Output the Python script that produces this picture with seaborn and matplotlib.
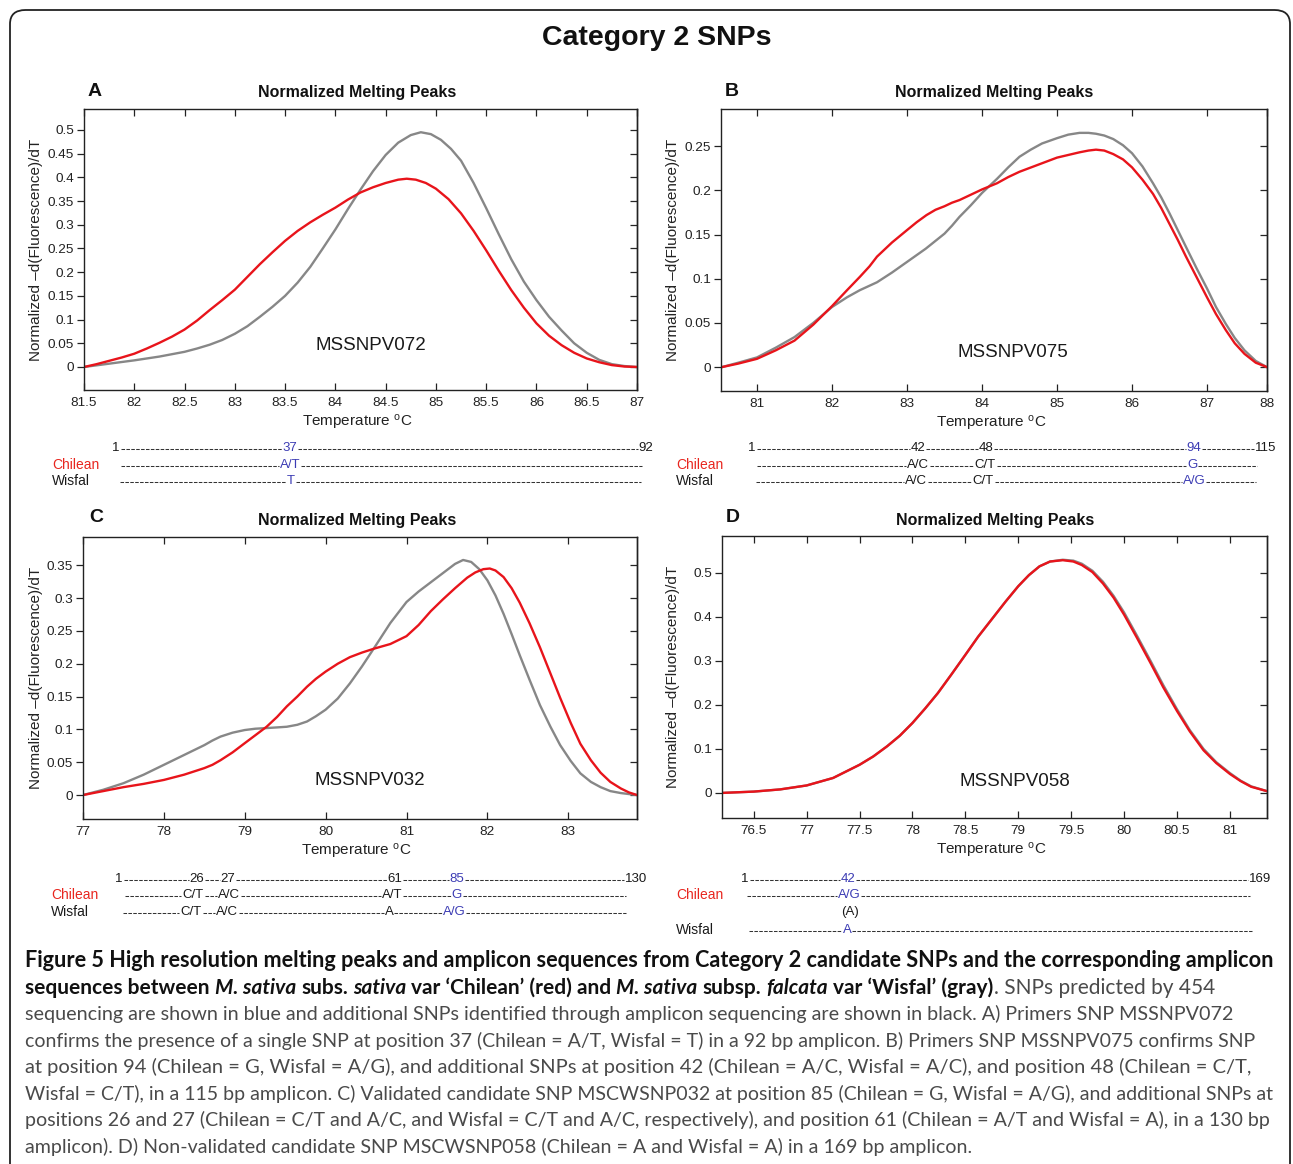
import numpy as np
import pandas as pd
import seaborn as sns
import matplotlib.pyplot as plt
from matplotlib import font_manager
from matplotlib.lines import Line2D
from matplotlib.patches import FancyBboxPatch

sns.set_theme(style="ticks")
names = {f.name for f in font_manager.fontManager.ttflist}
base_font = "Liberation Sans"
narrow_font = "Liberation Sans Narrow" if "Liberation Sans Narrow" in names else base_font
cap_font = "Lato" if "Lato" in names else "DejaVu Sans"
plt.rcParams["font.family"] = [base_font, "DejaVu Sans"]
plt.rcParams["mathtext.default"] = "regular"

W, H = 1293, 1164
RED = "#e8141b"
GREY = "#878787"
BLUE = "#3c3cb4"
TXT = "#222222"

# ---- melting peak data ----
# A  MSSNPV072
a_red_t = [81.5, 81.625, 81.75, 81.875, 82.0, 82.125, 82.25, 82.375, 82.5, 82.625, 82.75,
           82.875, 83.0, 83.125, 83.25, 83.375, 83.5, 83.625, 83.75, 83.875, 84.0, 84.125,
           84.25, 84.375, 84.5, 84.625, 84.71, 84.8, 84.9, 85.0, 85.125, 85.25, 85.375,
           85.5, 85.625, 85.75, 85.875, 86.0, 86.125, 86.25, 86.375, 86.5, 86.625, 86.75,
           86.875, 87.0]
a_red_v = [0, 0.006, 0.013, 0.02, 0.028, 0.039, 0.051, 0.064, 0.079, 0.098, 0.12,
           0.141, 0.163, 0.19, 0.217, 0.242, 0.266, 0.287, 0.305, 0.321, 0.336, 0.353,
           0.368, 0.379, 0.388, 0.395, 0.397, 0.395, 0.388, 0.376, 0.354, 0.324, 0.287,
           0.246, 0.203, 0.162, 0.125, 0.092, 0.066, 0.046, 0.03, 0.018, 0.01, 0.004,
           0.001, 0.0]
a_grey_t = [81.5, 81.75, 82.0, 82.25, 82.5, 82.625, 82.75, 82.875, 83.0, 83.125, 83.25,
            83.375, 83.5, 83.625, 83.75, 83.875, 84.0, 84.125, 84.25, 84.375, 84.5, 84.625,
            84.75, 84.85, 84.95, 85.05, 85.15, 85.25, 85.375, 85.5, 85.625, 85.75, 85.875,
            86.0, 86.125, 86.25, 86.375, 86.5, 86.625, 86.75, 86.875, 87.0]
a_grey_v = [0, 0.007, 0.014, 0.022, 0.032, 0.039, 0.047, 0.057, 0.07, 0.086, 0.106,
            0.127, 0.15, 0.178, 0.211, 0.25, 0.29, 0.333, 0.374, 0.413, 0.447, 0.473,
            0.489, 0.495, 0.491, 0.479, 0.46, 0.435, 0.388, 0.335, 0.28, 0.227, 0.18,
            0.141, 0.106, 0.077, 0.05, 0.03, 0.015, 0.006, 0.002, 0.0]

# B  MSSNPV075
b_red_t = [80.53, 80.75, 81.0, 81.25, 81.5, 81.75, 82.0, 82.2, 82.37, 82.5, 82.6, 82.8,
           83.0, 83.13, 83.26, 83.38, 83.5, 83.6, 83.7, 83.85, 84.0, 84.2, 84.35, 84.5,
           84.75, 85.0, 85.15, 85.3, 85.42, 85.52, 85.63, 85.75, 85.88, 86.0, 86.14,
           86.28, 86.39, 86.5, 86.61, 86.72, 86.86, 87.0, 87.12, 87.25, 87.37, 87.5,
           87.65, 87.8]
b_red_v = [0, 0.004, 0.0094, 0.019, 0.03, 0.048, 0.069, 0.087, 0.102, 0.114, 0.125, 0.141,
           0.155, 0.164, 0.172, 0.178, 0.182, 0.186, 0.189, 0.195, 0.201, 0.208, 0.215,
           0.221, 0.229, 0.237, 0.24, 0.243, 0.245, 0.246, 0.245, 0.241, 0.235, 0.226,
           0.212, 0.196, 0.18, 0.162, 0.144, 0.125, 0.102, 0.079, 0.06, 0.042, 0.027,
           0.015, 0.005, 0]
b_grey_t = [80.53, 80.75, 81.0, 81.25, 81.5, 81.75, 82.0, 82.2, 82.37, 82.6, 82.8, 83.0,
            83.25, 83.5, 83.6, 83.7, 83.85, 84.0, 84.1, 84.2, 84.35, 84.5, 84.65, 84.8,
            85.0, 85.15, 85.3, 85.42, 85.52, 85.63, 85.75, 85.88, 86.0, 86.14, 86.28,
            86.39, 86.5, 86.61, 86.72, 86.86, 87.0, 87.12, 87.25, 87.37, 87.5, 87.65, 87.8]
b_grey_v = [0, 0.005, 0.011, 0.022, 0.034, 0.05, 0.068, 0.079, 0.087, 0.096, 0.107, 0.119,
            0.134, 0.151, 0.16, 0.17, 0.183, 0.197, 0.205, 0.213, 0.226, 0.238, 0.246,
            0.253, 0.259, 0.263, 0.265, 0.265, 0.264, 0.262, 0.258, 0.251, 0.242, 0.227,
            0.208, 0.192, 0.174, 0.155, 0.136, 0.112, 0.089, 0.068, 0.049, 0.033, 0.019,
            0.007, 0]

# C  MSSNPV032
c_red_t = [77.0, 77.25, 77.5, 77.75, 78.0, 78.25, 78.5, 78.6, 78.7, 78.85, 79.0, 79.13,
           79.27, 79.4, 79.52, 79.65, 79.77, 79.88, 80.0, 80.15, 80.3, 80.45, 80.6, 80.8,
           81.0, 81.15, 81.3, 81.45, 81.6, 81.75, 81.85, 81.95, 82.03, 82.1, 82.2, 82.3,
           82.4, 82.52, 82.65, 82.78, 82.9, 83.03, 83.15, 83.28, 83.4, 83.52, 83.65,
           83.75, 83.85]
c_red_v = [0, 0.006, 0.012, 0.017, 0.023, 0.031, 0.041, 0.046, 0.053, 0.065, 0.079, 0.091,
           0.104, 0.119, 0.135, 0.15, 0.165, 0.177, 0.188, 0.2, 0.21, 0.217, 0.223, 0.23,
           0.242, 0.259, 0.28, 0.298, 0.315, 0.331, 0.339, 0.344, 0.345, 0.342, 0.332,
           0.315, 0.293, 0.262, 0.225, 0.185, 0.148, 0.11, 0.078, 0.053, 0.034, 0.02,
           0.01, 0.004, 0]
c_grey_t = [77.0, 77.25, 77.5, 77.75, 78.0, 78.25, 78.5, 78.6, 78.7, 78.85, 79.0, 79.13,
            79.27, 79.4, 79.52, 79.65, 79.77, 79.88, 80.0, 80.15, 80.3, 80.45, 80.6, 80.8,
            81.0, 81.15, 81.3, 81.45, 81.6, 81.7, 81.8, 81.9, 82.0, 82.1, 82.2, 82.3, 82.4,
            82.52, 82.65, 82.78, 82.9, 83.03, 83.15, 83.28, 83.4, 83.52, 83.65, 83.85]
c_grey_v = [0, 0.008, 0.018, 0.031, 0.046, 0.061, 0.076, 0.083, 0.089, 0.095, 0.099, 0.101,
            0.102, 0.103, 0.104, 0.107, 0.112, 0.12, 0.13, 0.147, 0.17, 0.196, 0.224, 0.262,
            0.294, 0.31, 0.324, 0.338, 0.352, 0.358, 0.355, 0.344, 0.327, 0.304, 0.276,
            0.245, 0.213, 0.176, 0.137, 0.104, 0.076, 0.052, 0.033, 0.02, 0.012, 0.006,
            0.003, 0]

# D  MSSNPV058
d_grey_t = [76.2, 76.5, 76.75, 77.0, 77.25, 77.5, 77.63, 77.76, 77.88, 78.0, 78.12, 78.24,
            78.37, 78.5, 78.62, 78.75, 78.88, 79.0, 79.1, 79.2, 79.3, 79.42, 79.52, 79.6,
            79.7, 79.8, 79.9, 80.0, 80.12, 80.25, 80.37, 80.5, 80.62, 80.75, 80.87, 81.0,
            81.1, 81.2, 81.35]
d_grey_v = [0, 0.003, 0.008, 0.017, 0.034, 0.064, 0.083, 0.106, 0.13, 0.159, 0.192, 0.227,
            0.27, 0.314, 0.355, 0.395, 0.435, 0.47, 0.495, 0.515, 0.526, 0.53, 0.528, 0.521,
            0.505, 0.48, 0.448, 0.41, 0.358, 0.3, 0.245, 0.19, 0.143, 0.1, 0.07, 0.045,
            0.028, 0.015, 0.004]
d_red_t = [76.2, 76.5, 76.75, 77.0, 77.25, 77.5, 77.63, 77.76, 77.88, 78.0, 78.12, 78.24,
           78.37, 78.5, 78.62, 78.75, 78.88, 79.0, 79.1, 79.2, 79.3, 79.42, 79.52, 79.6,
           79.7, 79.8, 79.9, 80.0, 80.12, 80.25, 80.37, 80.5, 80.62, 80.75, 80.87, 81.0,
           81.1, 81.2, 81.35]
d_red_v = [0, 0.003, 0.008, 0.017, 0.034, 0.064, 0.083, 0.106, 0.13, 0.159, 0.192, 0.227,
           0.27, 0.314, 0.355, 0.395, 0.435, 0.47, 0.495, 0.515, 0.526, 0.529, 0.526, 0.518,
           0.502, 0.476, 0.444, 0.405, 0.353, 0.295, 0.24, 0.186, 0.14, 0.097, 0.068, 0.043,
           0.027, 0.014, 0.004]

# tick values
a_xticks = [81.5, 82, 82.5, 83, 83.5, 84, 84.5, 85, 85.5, 86, 86.5, 87]
a_yticks = [0, 0.05, 0.1, 0.15, 0.2, 0.25, 0.3, 0.35, 0.4, 0.45, 0.5]
b_xticks = [81, 82, 83, 84, 85, 86, 87, 87.8]
b_xlabels = ["81", "82", "83", "84", "85", "86", "87", "88"]
b_yticks = [0, 0.05, 0.1, 0.15, 0.2, 0.25]
c_xticks = [77, 78, 79, 80, 81, 82, 83]
c_yticks = [0, 0.05, 0.1, 0.15, 0.2, 0.25, 0.3, 0.35]
d_xticks = [76.5, 77, 77.5, 78, 78.5, 79, 79.5, 80, 80.5, 81]
d_yticks = [0, 0.1, 0.2, 0.3, 0.4, 0.5]

primers = ["MSSNPV072", "MSSNPV075", "MSSNPV032", "MSSNPV058"]

# amplicon sequences: (text, colour key) items per row
seq_a = [[("1", "k"), ("37", "b"), ("92", "k")],
         [("A/T", "b")],
         [("T", "b")]]
seq_b = [[("1", "k"), ("42", "k"), ("48", "k"), ("94", "b"), ("115", "k")],
         [("A/C", "k"), ("C/T", "k"), ("G", "b")],
         [("A/C", "k"), ("C/T", "k"), ("A/G", "b")]]
seq_c = [[("1", "k"), ("26", "k"), ("27", "k"), ("61", "k"), ("85", "b"), ("130", "k")],
         [("C/T", "k"), ("A/C", "k"), ("A/T", "k"), ("G", "b")],
         [("C/T", "k"), ("A/C", "k"), ("A", "k"), ("A/G", "b")]]
seq_d = [[("1", "k"), ("42", "b"), ("169", "k")],
         [("A/G", "b")],
         [("A", "b")]]

caption = [
    [("Figure 5 High resolution melting peaks and amplicon sequences from Category 2 candidate SNPs and the corresponding amplicon", "b")],
    [("sequences between ", "b"), ("M. sativa", "bi"), (" subs. ", "b"), ("sativa", "bi"),
     (" var \u2018Chilean\u2019 (red) and ", "b"), ("M. sativa", "bi"), (" subsp. ", "b"),
     ("falcata", "bi"), (" var \u2018Wisfal\u2019 (gray)", "b"), (". SNPs predicted by 454", "r")],
    [("sequencing are shown in blue and additional SNPs identified through amplicon sequencing are shown in black. A) Primers SNP MSSNPV072", "r")],
    [("confirms the presence of a single SNP at position 37 (Chilean = A/T, Wisfal = T) in a 92 bp amplicon. B) Primers SNP MSSNPV075 confirms SNP", "r")],
    [("at position 94 (Chilean = G, Wisfal = A/G), and additional SNPs at position 42 (Chilean = A/C, Wisfal = A/C), and position 48 (Chilean = C/T,", "r")],
    [("Wisfal = C/T), in a 115 bp amplicon. C) Validated candidate SNP MSCWSNP032 at position 85 (Chilean = G, Wisfal = A/G), and additional SNPs at", "r")],
    [("positions 26 and 27 (Chilean = C/T and A/C, and Wisfal = C/T and A/C, respectively), and position 61 (Chilean = A/T and Wisfal = A), in a 130 bp", "r")],
    [("amplicon). D) Non-validated candidate SNP MSCWSNP058 (Chilean = A and Wisfal = A) in a 169 bp amplicon.", "r")],
]

# ---- layout (pixels) ----
panels = [
    dict(letter="A", rect=(84, 109, 637, 390), xlim=(81.5, 87), ylim=(-0.0485, 0.544),
         xt=a_xticks, xl=None, yt=a_yticks, red=(a_red_t, a_red_v), grey=(a_grey_t, a_grey_v),
         tag=(0.519, 0.157), title=(357, 93), let=(95, 91), ylab=-0.074),
    dict(letter="B", rect=(721, 109, 1267, 391), xlim=(80.52, 87.8), ylim=(-0.027, 0.292),
         xt=b_xticks, xl=b_xlabels, yt=b_yticks, red=(b_red_t, b_red_v), grey=(b_grey_t, b_grey_v),
         tag=(0.535, 0.138), title=(994, 93), let=(732, 91), ylab=-0.075),
    dict(letter="C", rect=(83, 537, 637, 819), xlim=(77, 83.85), ylim=(-0.0365, 0.393),
         xt=c_xticks, xl=None, yt=c_yticks, red=(c_red_t, c_red_v), grey=(c_grey_t, c_grey_v),
         tag=(0.518, 0.135), title=(357, 520), let=(96, 517), ylab=-0.072),
    dict(letter="D", rect=(722, 536, 1267, 818), xlim=(76.2, 81.35), ylim=(-0.057, 0.584),
         xt=d_xticks, xl=None, yt=d_yticks, red=(d_red_t, d_red_v), grey=(d_grey_t, d_grey_v),
         tag=(0.538, 0.131), title=(995, 520), let=(733, 518), ylab=-0.077),
]

# sequence layout: row y, label x, item centres, dash start/end for strain rows
seq_layout = [
    dict(seq=seq_a, lab_x=52, ys=[448, 465, 481],
         xs=[[116, 290, 646], [290], [291]], ends=[(121, 642), (120, 641)]),
    dict(seq=seq_b, lab_x=676, ys=[448, 465, 481],
         xs=[[752, 918, 986, 1194, 1266], [918, 985, 1192], [916, 983, 1194]],
         ends=[(757, 1257), (756, 1256)]),
    dict(seq=seq_c, lab_x=51, ys=[879, 895, 912],
         xs=[[119, 197, 228, 395, 457, 636], [193, 229, 392, 457], [191, 227, 389, 454]],
         ends=[(125, 626), (123, 626)]),
    dict(seq=seq_d, lab_x=676, ys=[879, 895, 930],
         xs=[[745, 848, 1260], [849], [847]], ends=[(747, 1250), (749, 1252)]),
]

fig = plt.figure(figsize=(W / 100, H / 100), dpi=100)
fig.patch.set_facecolor("white")
r = fig.canvas.get_renderer()

# rounded frame (runs past the bottom edge, around the caption too)
fig.add_artist(FancyBboxPatch((10 / W, -30 / H), 1280 / W, 1184 / H,
                              boxstyle="round,pad=0,rounding_size=0.012",
                              transform=fig.transFigure, fill=False, lw=1.3, ec="#222222"))

fig.text(657 / W, 1 - 38 / H, "Category 2 SNPs", ha="center", va="center",
         fontsize=20.5, weight="bold", family=[narrow_font, "DejaVu Sans"], color="#111111")

for p, name in zip(panels, primers):
    l, t, rr, b = p["rect"]
    ax = fig.add_axes([l / W, 1 - b / H, (rr - l) / W, (b - t) / H])
    sns.lineplot(x=p["grey"][0], y=p["grey"][1], ax=ax, color=GREY, lw=1.7,
                 estimator=None, sort=False)
    sns.lineplot(x=p["red"][0], y=p["red"][1], ax=ax, color=RED, lw=1.7,
                 estimator=None, sort=False)
    ax.set_xlim(p["xlim"])
    ax.set_ylim(p["ylim"])
    ax.set_xticks(p["xt"])
    ax.set_xticklabels(p["xl"] if p["xl"] else [f"{v:g}" for v in p["xt"]])
    ax.set_yticks(p["yt"])
    ax.set_yticklabels([f"{v:g}" for v in p["yt"]])
    ax.tick_params(axis="x", direction="in", top=True, length=5, width=0.9,
                   labelsize=9.7, pad=5, colors=TXT)
    ax.tick_params(axis="y", direction="out", length=5, width=0.9, labelsize=9.7,
                   pad=2, colors=TXT)
    sec = ax.secondary_yaxis("right")
    sec.set_yticks(p["yt"])
    sec.tick_params(direction="in", length=5, width=0.9, labelright=False)
    for s in list(ax.spines.values()) + list(sec.spines.values()):
        s.set_linewidth(1.0)
        s.set_color("#222222")
    ax.set_xlabel("Temperature $^{o}$C", fontsize=11, color=TXT)
    ax.xaxis.set_label_coords(0.494, -0.082)
    ax.set_ylabel("Normalized \u2013d(Fluorescence)/dT", fontsize=11, color=TXT)
    ax.yaxis.set_label_coords(p["ylab"], 0.5)
    ax.text(p["tag"][0], p["tag"][1], name, transform=ax.transAxes, ha="center",
            va="center", fontsize=13.5, color="#1a1a1a")
    ax.grid(False)
    fig.text(p["title"][0] / W, 1 - p["title"][1] / H, "Normalized Melting Peaks",
             ha="center", va="center", fontsize=11.5, weight="bold",
             family=[narrow_font, "DejaVu Sans"], color="#111111")
    fig.text(p["let"][0] / W, 1 - p["let"][1] / H, p["letter"], ha="center", va="center",
             fontsize=14, weight="bold", color="#111111")

# ---- amplicon sequence rows ----
SEQ_FS = 9.5
cmap = {"k": "#1a1a1a", "b": BLUE}


def dash(x0, x1, y):
    if x1 - x0 < 2:
        return
    fy = 1 - (y + 1) / H
    fig.add_artist(Line2D([x0 / W, x1 / W], [fy, fy], transform=fig.transFigure,
                          color="#333333", lw=0.75, linestyle=(0, (3.4, 1.3))))


for sl in seq_layout:
    for ri, (row, xs, y) in enumerate(zip(sl["seq"], sl["xs"], sl["ys"])):
        exts = []
        for (txt, ck), xc in zip(row, xs):
            tt = fig.text(xc / W, 1 - y / H, txt, ha="center", va="center",
                          fontsize=SEQ_FS, color=cmap[ck])
            bb = tt.get_window_extent(r)
            exts.append((bb.x0, bb.x1))
        segs = []
        if ri == 0:
            for e0, e1 in zip(exts[:-1], exts[1:]):
                segs.append((e0[1] + 1, e1[0] - 1))
        else:
            st, en = sl["ends"][ri - 1]
            pts = [st] + [v for e in exts for v in (e[0] - 1, e[1] + 1)] + [en]
            segs = list(zip(pts[0::2], pts[1::2]))
            lab, col = ("Chilean", "#e8261f") if ri == 1 else ("Wisfal", "#1a1a1a")
            fig.text(sl["lab_x"] / W, 1 - y / H, lab, ha="left", va="center",
                     fontsize=SEQ_FS + 0.5, color=col)
        for a, b in segs:
            dash(a, b, y)

# "(A)" note under panel D Chilean genotype
fig.text(850 / W, 1 - 912 / H, "(A)", ha="center", va="center", fontsize=SEQ_FS,
         color="#1a1a1a")

# ---- caption ----
CAP_BOLD = "#111111"
CAP_REG = "#4a4a4a"


def style_kw(s):
    return dict(weight="bold" if "b" in s else "normal",
                style="italic" if "i" in s else "normal",
                color=CAP_BOLD if "b" in s else CAP_REG)


def space_w(kw, fs):
    a = fig.text(0, 0, "x x", fontsize=fs, family=cap_font, **kw)
    b = fig.text(0, 0, "xx", fontsize=fs, family=cap_font, **kw)
    w = a.get_window_extent(r).width - b.get_window_extent(r).width
    a.remove()
    b.remove()
    return w


def draw_runs(runs, x0, yb, fs):
    arts = []
    x = x0
    for txt, s in runs:
        kw = style_kw(s)
        sp = space_w(kw, fs)
        core = txt.strip(" ")
        lead = len(txt) - len(txt.lstrip(" "))
        trail = len(txt) - len(txt.rstrip(" "))
        x += lead * sp
        t = fig.text(x / W, 1 - yb / H, core, fontsize=fs, family=cap_font,
                     va="baseline", ha="left", **kw)
        arts.append(t)
        x += t.get_window_extent(r).width + trail * sp
    return arts, x - x0


cap_y = [967, 994, 1020, 1047, 1073, 1100, 1126, 1153]
cap_end = [1278, 1221, 1238, 1262, 1262, 1278, 1278, 975]
for runs, yb, xe in zip(caption, cap_y, cap_end):
    arts, w = draw_runs(runs, 25, yb, 14)
    for a in arts:
        a.remove()
    draw_runs(runs, 25, yb, 14 * (xe - 25) / w)

fig.savefig("out.png", dpi=100, facecolor="white")
